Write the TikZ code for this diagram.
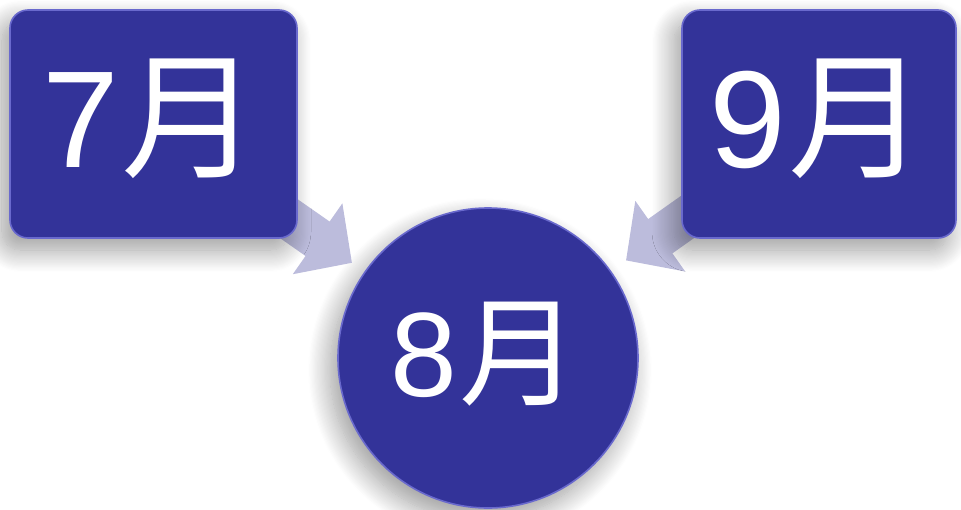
\documentclass[tikz,border=0pt]{standalone}
\usepackage{fontspec}
\newfontfamily\cjk{Noto Sans CJK JP}
\newfontfamily\digitfont{Liberation Sans}
\usetikzlibrary{calc,arrows.meta,shadows.blur}
\definecolor{boxblue}{RGB}{51,51,153}
\definecolor{boxedge}{RGB}{105,105,205}
\definecolor{arrowfill}{RGB}{188,188,220}
\newcommand{\monthlabel}[2]{{\digitfont\fontsize{#2}{#2}\selectfont #1}\hspace{0.16em}{\cjk\fontsize{#2}{#2}\selectfont 月}}
\tikzset{
  softshadow/.style={blur shadow={shadow xshift=-8pt, shadow yshift=-12pt, shadow blur radius=22pt, shadow blur steps=20, shadow opacity=40}},
  monthbox/.style={rectangle, rounded corners=18pt, fill=boxblue, draw=boxedge, line width=1.6pt,
    minimum width=#1, minimum height=228pt, inner sep=0pt, softshadow},
  monthcircle/.style={circle, fill=boxblue, draw=boxedge, line width=1.6pt,
    minimum size=300pt, inner sep=0pt, softshadow},
  monthtext/.style={text=white, inner sep=0pt},
  fatarrow/.style={line width=42pt, color=arrowfill, -{Triangle[width=84pt,length=42pt]}}
}
\begin{document}
\begin{tikzpicture}[x=1pt,y=-1pt]
\useasboundingbox (0,0) rectangle (961,509);
% center circle
\node[monthcircle] (m8) at (488,358) {};
% arrows (behind boxes)
\coordinate (c7) at (153.5,124);
\coordinate (c9) at (819,124);
\draw[fatarrow] ($(c7)!0.25!(m8.center)$) -- ($(m8.center)!166pt!(c7)$);
\draw[fatarrow] ($(c9)!0.25!(m8.center)$) -- ($(m8.center)!169pt!(c9)$);
% boxes
\node[monthbox=287pt] (m7) at (c7) {};
\node[monthbox=274pt] (m9) at (c9) {};
% texts
\node[monthtext] (t7) at (151,119) {\monthlabel{7}{138}};
\node[monthtext] (t9) at (818,119) {\monthlabel{9}{138}};
\node[monthtext] (t8) at (485,354) {\monthlabel{8}{120}};
\end{tikzpicture}
\end{document}
